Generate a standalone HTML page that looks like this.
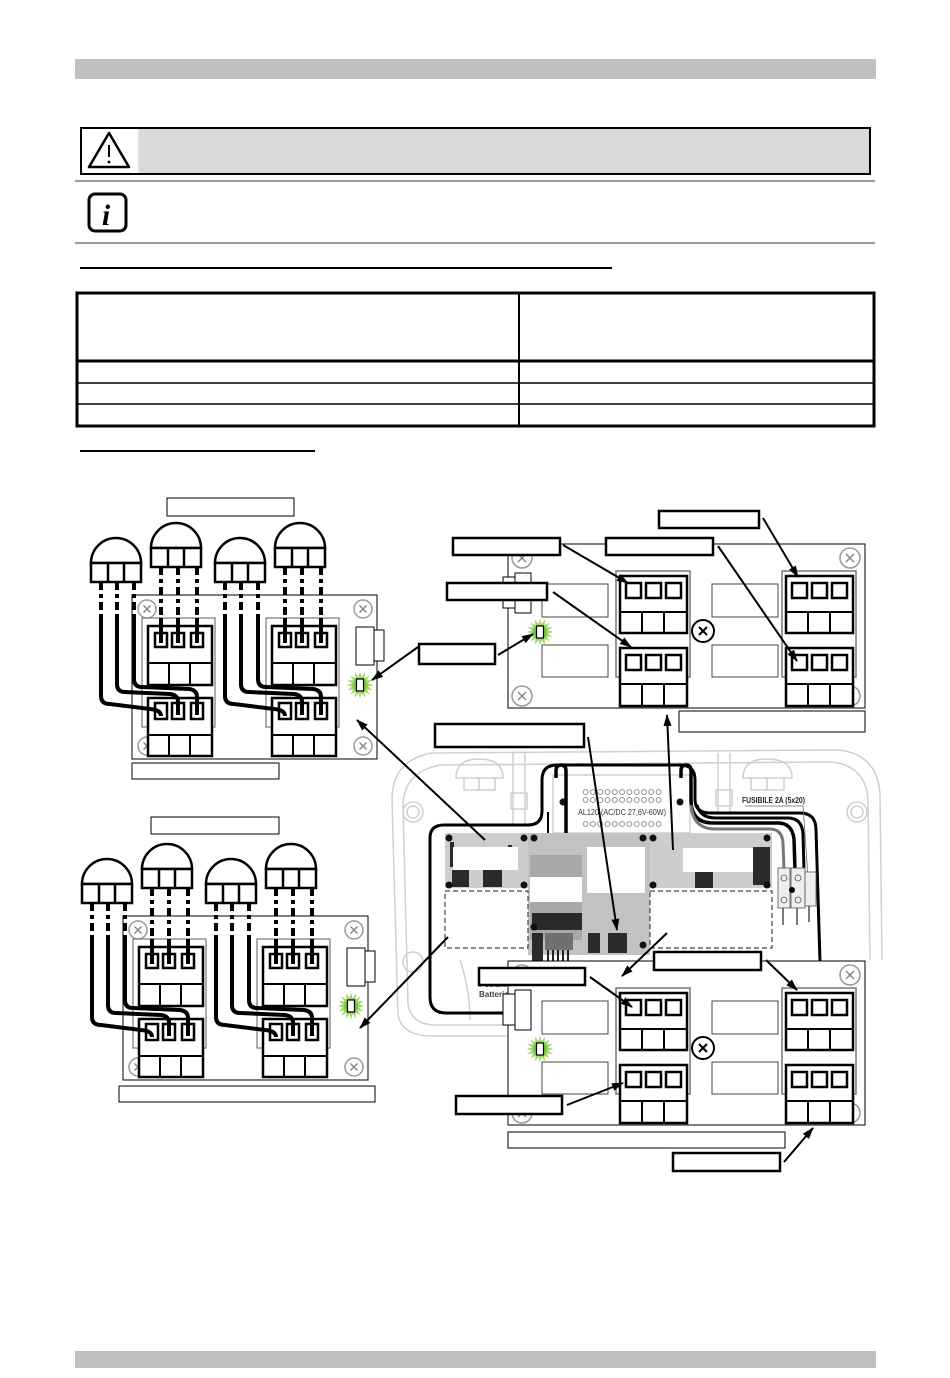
<!DOCTYPE html>
<html><head><meta charset="utf-8"><style>
html,body{margin:0;padding:0;background:#fff;}
svg{display:block;}
</style></head><body>
<svg width="950" height="1378" viewBox="0 0 950 1378" xmlns="http://www.w3.org/2000/svg" font-family="Liberation Sans, sans-serif">
<defs>
<marker id="ah" markerWidth="12" markerHeight="8" refX="11" refY="4" orient="auto" markerUnits="userSpaceOnUse"><path d="M0,0 L12,4 L0,8 Z" fill="#000"/></marker>
<pattern id="holes" x="582" y="788" width="7.3" height="8" patternUnits="userSpaceOnUse"><circle cx="3.6" cy="4" r="2.5" fill="none" stroke="#777" stroke-width="0.8"/></pattern>
</defs>
<rect width="950" height="1378" fill="#fff"/>

<!-- header -->
<rect x="75" y="59" width="801" height="20" fill="#c0c0c0"/>
<rect x="81" y="128" width="789" height="46" fill="#d9d9d9" stroke="#000" stroke-width="2"/>
<rect x="82" y="129" width="55" height="44" fill="#fff"/>
<line x1="138" y1="129" x2="138" y2="173" stroke="#eee" stroke-width="2"/>
<path d="M109 133 L89 167 L129 167 Z" fill="#fff" stroke="#000" stroke-width="2.5" stroke-linejoin="round"/>
<line x1="109" y1="145" x2="109" y2="157" stroke="#000" stroke-width="2"/>
<circle cx="109" cy="162" r="1.4" fill="#000"/>
<line x1="75" y1="181" x2="875" y2="181" stroke="#999" stroke-width="2"/>
<rect x="89" y="194" width="37" height="37" rx="6" fill="#fff" stroke="#000" stroke-width="3"/>
<text x="106" y="225" font-family="Liberation Serif, serif" font-style="italic" font-weight="bold" font-size="30" text-anchor="middle">i</text>
<line x1="75" y1="243" x2="875" y2="243" stroke="#999" stroke-width="2"/>
<line x1="80" y1="268" x2="612" y2="268" stroke="#000" stroke-width="2"/>

<!-- table -->
<rect x="77" y="293" width="797" height="133" fill="none" stroke="#000" stroke-width="3"/>
<line x1="77" y1="361" x2="874" y2="361" stroke="#000" stroke-width="3"/>
<line x1="77" y1="383" x2="874" y2="383" stroke="#000" stroke-width="1.5"/>
<line x1="77" y1="404" x2="874" y2="404" stroke="#000" stroke-width="1.5"/>
<line x1="519" y1="293" x2="519" y2="426" stroke="#000" stroke-width="2"/>
<line x1="80" y1="451" x2="315" y2="451" stroke="#000" stroke-width="2"/>

<!-- ================= LEFT DIAGRAMS ================= -->
<g>
<rect x="132" y="595" width="245" height="164" fill="#fff" stroke="#000" stroke-width="1"/>
<g fill="#fff" stroke="#999" stroke-width="1.5">
<circle cx="147" cy="609" r="9"/><circle cx="363" cy="609" r="9"/><circle cx="147" cy="746" r="9"/><circle cx="363" cy="746" r="9"/>
</g>
<path d="M143.5 605.5L150.5 612.5M150.5 605.5L143.5 612.5M359.5 605.5L366.5 612.5M366.5 605.5L359.5 612.5M143.5 742.5L150.5 749.5M150.5 742.5L143.5 749.5M359.5 742.5L366.5 749.5M366.5 742.5L359.5 749.5" stroke="#888" stroke-width="1.5"/>
<rect x="356" y="627" width="18" height="38" fill="#fff" stroke="#000"/>
<rect x="374" y="630" width="10" height="31" fill="#fff" stroke="#000"/>
<g transform="translate(360,685)"><polygon points="13.5,0 7.85,1.56 12.47,5.17 6.65,4.45 9.55,9.55 4.45,6.65 5.17,12.47 1.56,7.85 0,13.5 -1.56,7.85 -5.17,12.47 -4.45,6.65 -9.55,9.55 -6.65,4.45 -12.47,5.17 -7.85,1.56 -13.5,0 -7.85,-1.56 -12.47,-5.17 -6.65,-4.45 -9.55,-9.55 -4.45,-6.65 -5.17,-12.47 -1.56,-7.85 0,-13.5 1.56,-7.85 5.17,-12.47 4.45,-6.65 9.55,-9.55 6.65,-4.45 12.47,-5.17 7.85,-1.56" fill="#9ed868"/><circle r="7" fill="#7cc242"/><rect x="-3.5" y="-6" width="7" height="12" fill="#fff" stroke="#000" stroke-width="1.2"/></g>
<g>
<rect x="142" y="618" width="73" height="109" fill="none" stroke="#777" stroke-width="1.2"/>
<g fill="#fff" stroke="#000" stroke-width="2.5"><rect x="148" y="626" width="64" height="59"/><rect x="148" y="698" width="64" height="58"/><rect x="155" y="633" width="12" height="14"/><rect x="172" y="633" width="12" height="14"/><rect x="191" y="633" width="12" height="14"/><rect x="155" y="703" width="12" height="16"/><rect x="172" y="703" width="12" height="16"/><rect x="191" y="703" width="12" height="16"/></g>
<path d="M148 663H212M169 663V685M190 663V685M148 735H212M169 735V756M190 735V756" stroke="#000" stroke-width="2" fill="none"/>
<g stroke="#000" stroke-width="4" fill="none"><path d="M101 618V696Q101 704 110 704L150 709Q161 710 161 716M117 618V684Q117 692 125 692L170 694Q178 695 178 702V715M134 618V679Q134 687 142 687L189 689Q197 690 197 697V715M161 618V643M178 618V643M197 618V643"/><path d="M101 582V618M117 582V618M134 582V618M161 567V618M178 567V618M197 567V618" stroke-dasharray="8 4 4 4"/></g>
<g fill="#fff" stroke="#000" stroke-width="2.5"><path d="M91 563A25 25 0 0 1 141 563Z"/><rect x="91" y="563" width="50" height="19"/><path d="M151 548A25 25 0 0 1 201 548Z"/><rect x="151" y="548" width="50" height="19"/></g>
<path d="M108 563V582M124 563V582M168 548V567M184 548V567" stroke="#000" stroke-width="2.5"/>
</g>
<g transform="translate(124,0)">
<rect x="142" y="618" width="73" height="109" fill="none" stroke="#777" stroke-width="1.2"/>
<g fill="#fff" stroke="#000" stroke-width="2.5"><rect x="148" y="626" width="64" height="59"/><rect x="148" y="698" width="64" height="58"/><rect x="155" y="633" width="12" height="14"/><rect x="172" y="633" width="12" height="14"/><rect x="191" y="633" width="12" height="14"/><rect x="155" y="703" width="12" height="16"/><rect x="172" y="703" width="12" height="16"/><rect x="191" y="703" width="12" height="16"/></g>
<path d="M148 663H212M169 663V685M190 663V685M148 735H212M169 735V756M190 735V756" stroke="#000" stroke-width="2" fill="none"/>
<g stroke="#000" stroke-width="4" fill="none"><path d="M101 618V696Q101 704 110 704L150 709Q161 710 161 716M117 618V684Q117 692 125 692L170 694Q178 695 178 702V715M134 618V679Q134 687 142 687L189 689Q197 690 197 697V715M161 618V643M178 618V643M197 618V643"/><path d="M101 582V618M117 582V618M134 582V618M161 567V618M178 567V618M197 567V618" stroke-dasharray="8 4 4 4"/></g>
<g fill="#fff" stroke="#000" stroke-width="2.5"><path d="M91 563A25 25 0 0 1 141 563Z"/><rect x="91" y="563" width="50" height="19"/><path d="M151 548A25 25 0 0 1 201 548Z"/><rect x="151" y="548" width="50" height="19"/></g>
<path d="M108 563V582M124 563V582M168 548V567M184 548V567" stroke="#000" stroke-width="2.5"/>
</g>
</g>

<g transform="translate(-9,321)">
<rect x="132" y="595" width="245" height="164" fill="#fff" stroke="#000" stroke-width="1"/>
<g fill="#fff" stroke="#999" stroke-width="1.5">
<circle cx="147" cy="609" r="9"/><circle cx="363" cy="609" r="9"/><circle cx="147" cy="746" r="9"/><circle cx="363" cy="746" r="9"/>
</g>
<path d="M143.5 605.5L150.5 612.5M150.5 605.5L143.5 612.5M359.5 605.5L366.5 612.5M366.5 605.5L359.5 612.5M143.5 742.5L150.5 749.5M150.5 742.5L143.5 749.5M359.5 742.5L366.5 749.5M366.5 742.5L359.5 749.5" stroke="#888" stroke-width="1.5"/>
<rect x="356" y="627" width="18" height="38" fill="#fff" stroke="#000"/>
<rect x="374" y="630" width="10" height="31" fill="#fff" stroke="#000"/>
<g transform="translate(360,685)"><polygon points="13.5,0 7.85,1.56 12.47,5.17 6.65,4.45 9.55,9.55 4.45,6.65 5.17,12.47 1.56,7.85 0,13.5 -1.56,7.85 -5.17,12.47 -4.45,6.65 -9.55,9.55 -6.65,4.45 -12.47,5.17 -7.85,1.56 -13.5,0 -7.85,-1.56 -12.47,-5.17 -6.65,-4.45 -9.55,-9.55 -4.45,-6.65 -5.17,-12.47 -1.56,-7.85 0,-13.5 1.56,-7.85 5.17,-12.47 4.45,-6.65 9.55,-9.55 6.65,-4.45 12.47,-5.17 7.85,-1.56" fill="#9ed868"/><circle r="7" fill="#7cc242"/><rect x="-3.5" y="-6" width="7" height="12" fill="#fff" stroke="#000" stroke-width="1.2"/></g>
<g>
<rect x="142" y="618" width="73" height="109" fill="none" stroke="#777" stroke-width="1.2"/>
<g fill="#fff" stroke="#000" stroke-width="2.5"><rect x="148" y="626" width="64" height="59"/><rect x="148" y="698" width="64" height="58"/><rect x="155" y="633" width="12" height="14"/><rect x="172" y="633" width="12" height="14"/><rect x="191" y="633" width="12" height="14"/><rect x="155" y="703" width="12" height="16"/><rect x="172" y="703" width="12" height="16"/><rect x="191" y="703" width="12" height="16"/></g>
<path d="M148 663H212M169 663V685M190 663V685M148 735H212M169 735V756M190 735V756" stroke="#000" stroke-width="2" fill="none"/>
<g stroke="#000" stroke-width="4" fill="none"><path d="M101 618V696Q101 704 110 704L150 709Q161 710 161 716M117 618V684Q117 692 125 692L170 694Q178 695 178 702V715M134 618V679Q134 687 142 687L189 689Q197 690 197 697V715M161 618V643M178 618V643M197 618V643"/><path d="M101 582V618M117 582V618M134 582V618M161 567V618M178 567V618M197 567V618" stroke-dasharray="8 4 4 4"/></g>
<g fill="#fff" stroke="#000" stroke-width="2.5"><path d="M91 563A25 25 0 0 1 141 563Z"/><rect x="91" y="563" width="50" height="19"/><path d="M151 548A25 25 0 0 1 201 548Z"/><rect x="151" y="548" width="50" height="19"/></g>
<path d="M108 563V582M124 563V582M168 548V567M184 548V567" stroke="#000" stroke-width="2.5"/>
</g>
<g transform="translate(124,0)">
<rect x="142" y="618" width="73" height="109" fill="none" stroke="#777" stroke-width="1.2"/>
<g fill="#fff" stroke="#000" stroke-width="2.5"><rect x="148" y="626" width="64" height="59"/><rect x="148" y="698" width="64" height="58"/><rect x="155" y="633" width="12" height="14"/><rect x="172" y="633" width="12" height="14"/><rect x="191" y="633" width="12" height="14"/><rect x="155" y="703" width="12" height="16"/><rect x="172" y="703" width="12" height="16"/><rect x="191" y="703" width="12" height="16"/></g>
<path d="M148 663H212M169 663V685M190 663V685M148 735H212M169 735V756M190 735V756" stroke="#000" stroke-width="2" fill="none"/>
<g stroke="#000" stroke-width="4" fill="none"><path d="M101 618V696Q101 704 110 704L150 709Q161 710 161 716M117 618V684Q117 692 125 692L170 694Q178 695 178 702V715M134 618V679Q134 687 142 687L189 689Q197 690 197 697V715M161 618V643M178 618V643M197 618V643"/><path d="M101 582V618M117 582V618M134 582V618M161 567V618M178 567V618M197 567V618" stroke-dasharray="8 4 4 4"/></g>
<g fill="#fff" stroke="#000" stroke-width="2.5"><path d="M91 563A25 25 0 0 1 141 563Z"/><rect x="91" y="563" width="50" height="19"/><path d="M151 548A25 25 0 0 1 201 548Z"/><rect x="151" y="548" width="50" height="19"/></g>
<path d="M108 563V582M124 563V582M168 548V567M184 548V567" stroke="#000" stroke-width="2.5"/>
</g>
</g>

<!-- ================= RIGHT UPPER BOARD ================= -->
<g>
<rect x="508" y="544" width="357" height="164" fill="#fff" stroke="#000" stroke-width="1"/>
<g fill="#fff" stroke="#999" stroke-width="1.5"><circle cx="522" cy="558" r="10"/><circle cx="850" cy="558" r="10"/><circle cx="522" cy="696" r="10"/><circle cx="850" cy="696" r="10"/></g>
<path d="M518 554L526 562M526 554L518 562M846 554L854 562M854 554L846 562M518 692L526 700M526 692L518 700M846 692L854 700M854 692L846 700" stroke="#888" stroke-width="1.5"/>
<circle cx="703" cy="631" r="11" fill="#fff" stroke="#000" stroke-width="2"/><path d="M699 627L707 635M707 627L699 635" stroke="#000" stroke-width="2"/>
<g fill="none" stroke="#444" stroke-width="1"><rect x="542" y="584" width="66" height="33"/><rect x="542" y="645" width="66" height="32"/><rect x="712" y="584" width="66" height="33"/><rect x="712" y="645" width="66" height="32"/></g>
<rect x="503" y="577" width="12" height="31" fill="#fff" stroke="#000"/><rect x="515" y="573" width="16" height="40" fill="#fff" stroke="#000"/>
<g transform="translate(540,632)"><polygon points="13.5,0 7.85,1.56 12.47,5.17 6.65,4.45 9.55,9.55 4.45,6.65 5.17,12.47 1.56,7.85 0,13.5 -1.56,7.85 -5.17,12.47 -4.45,6.65 -9.55,9.55 -6.65,4.45 -12.47,5.17 -7.85,1.56 -13.5,0 -7.85,-1.56 -12.47,-5.17 -6.65,-4.45 -9.55,-9.55 -4.45,-6.65 -5.17,-12.47 -1.56,-7.85 0,-13.5 1.56,-7.85 5.17,-12.47 4.45,-6.65 9.55,-9.55 6.65,-4.45 12.47,-5.17 7.85,-1.56" fill="#9ed868"/><circle r="7" fill="#7cc242"/><rect x="-3.5" y="-6" width="7" height="12" fill="#fff" stroke="#000" stroke-width="1.2"/></g>
<g fill="none" stroke="#777" stroke-width="1.5"><rect x="616" y="571" width="74" height="106"/><rect x="782" y="571" width="74" height="106"/></g>
<g fill="#fff" stroke="#000" stroke-width="2.5"><rect x="620" y="576" width="67" height="57"/><rect x="620" y="648" width="67" height="58"/><rect x="626" y="583" width="15" height="15"/><rect x="646" y="583" width="15" height="15"/><rect x="666" y="583" width="15" height="15"/><rect x="626" y="655" width="15" height="15"/><rect x="646" y="655" width="15" height="15"/><rect x="666" y="655" width="15" height="15"/>
<rect x="786" y="576" width="67" height="57"/><rect x="786" y="648" width="67" height="58"/><rect x="792" y="583" width="15" height="15"/><rect x="812" y="583" width="15" height="15"/><rect x="832" y="583" width="15" height="15"/><rect x="792" y="655" width="15" height="15"/><rect x="812" y="655" width="15" height="15"/><rect x="832" y="655" width="15" height="15"/></g>
<path d="M620 612H687M642 612V633M664 612V633M620 684H687M642 684V706M664 684V706M786 612H853M808 612V633M830 612V633M786 684H853M808 684V706M830 684V706" stroke="#000" stroke-width="2" fill="none"/>
</g>

<!-- ================= ENCLOSURE ================= -->
<g fill="none" stroke="#cfcfcf" stroke-width="1.5">
<path d="M398 1015 L392 800 Q392 760 432 753 L838 750 Q878 754 880 795 L882 960"/>
<path d="M408 1005 L403 805 Q404 772 440 765 L832 762 Q866 766 868 800 L870 960"/>
<path d="M398 1015 Q402 1036 432 1036 L508 1036"/>
<path d="M408 1005 Q412 1025 436 1025 L508 1025"/>
<circle cx="413" cy="812" r="10"/><circle cx="413" cy="812" r="6"/>
<circle cx="857" cy="812" r="10"/><circle cx="857" cy="812" r="6"/>
<circle cx="413" cy="962" r="10"/>
<path d="M456 778 Q456 759 479 759 Q503 759 503 778 Z"/><path d="M464 778 V790 H495 V778 M479 778 V790"/>
<path d="M743 778 Q743 759 767 759 Q792 759 792 778 Z"/><path d="M751 778 V790 H784 V778 M767 778 V790"/>
<path d="M513 753 V825 M525 753 V825"/><rect x="511" y="793" width="16" height="16"/>
<path d="M718 753 V815 M730 753 V815"/><rect x="716" y="790" width="16" height="16"/>
<path d="M460 960 Q470 990 470 1020"/>
</g>
<!-- AL120 module -->
<rect x="553" y="775" width="137" height="58" fill="#fff" stroke="#bbb" stroke-width="1"/>
<rect x="582" y="788" width="80" height="16" fill="url(#holes)"/>
<rect x="582" y="820" width="80" height="8" fill="url(#holes)"/>
<rect x="578" y="806" width="90" height="11" fill="#fff"/>
<text x="578" y="815" font-size="8.5" fill="#333" textLength="88" lengthAdjust="spacingAndGlyphs">AL120 (AC/DC 27,6V-60W)</text>
<circle cx="563" cy="802" r="3.5" fill="#111"/><circle cx="680" cy="802" r="3.5" fill="#111"/>
<!-- black cable outline -->
<path d="M503 1013 L446 1013 Q430 1013 430 997 L430 838 Q430 825 444 825 L528 825 Q542 825 542 811 L542 780 Q542 765 557 765 L680 765 Q695 765 695 780 L695 799 Q695 813 710 813 L800 813 Q816 813 816 830 L820 962" fill="none" stroke="#000" stroke-width="3"/>
<path d="M556 778 V771 Q556 765 561 765 Q566 765 566 771 V834" fill="none" stroke="#000" stroke-width="3.5"/>
<path d="M548 812 V834" fill="none" stroke="#000" stroke-width="2"/>
<path d="M681 778 V771 Q681 765 686 765 Q691 765 691 771 V800 Q691 823 713 823 L778 823 Q792 823 794 839 L795 870" fill="none" stroke="#000" stroke-width="3.5"/>
<path d="M691 805 Q693 829 715 829 L770 829 Q782 829 783 843 L784 870" fill="none" stroke="#777" stroke-width="3"/>
<path d="M697 805 Q700 818 716 818 L788 818 Q802 818 803 834 L804 870" fill="none" stroke="#000" stroke-width="3"/>
<text x="742" y="803" font-size="8" font-weight="bold" fill="#222" textLength="63" lengthAdjust="spacingAndGlyphs">FUSIBILE 2A (5x20)</text>
<path d="M745 806 H803 L808 877" fill="none" stroke="#666" stroke-width="0.8"/>
<!-- fuse block -->
<g fill="#eee" stroke="#555" stroke-width="0.8">
<rect x="778" y="868" width="12" height="40"/><rect x="791" y="868" width="14" height="40"/><rect x="805" y="872" width="11" height="34"/>
<circle cx="784" cy="878" r="3"/><circle cx="798" cy="878" r="3"/><circle cx="784" cy="900" r="3"/><circle cx="798" cy="900" r="3"/>
</g>
<circle cx="792" cy="890" r="3" fill="#000"/>
<path d="M783 908 V925 M797 908 V925 M809 906 V922" stroke="#222" stroke-width="1.2"/>
<!-- PCB -->
<rect x="445" y="833" width="327" height="55" fill="#cdcdcd"/>
<rect x="528" y="833" width="122" height="122" fill="#c2c2c2"/>
<rect x="530" y="855" width="52" height="85" fill="#a8a8a8"/>
<g fill="#2a2a2a">
<rect x="452" y="870" width="17" height="17"/><rect x="483" y="870" width="19" height="17"/>
<rect x="695" y="872" width="18" height="16"/><rect x="753" y="847" width="17" height="38"/>
<rect x="532" y="913" width="50" height="17"/><rect x="532" y="933" width="11" height="28"/>
<rect x="588" y="933" width="12" height="20"/><rect x="608" y="933" width="19" height="20"/>
<rect x="450" y="842" width="4" height="25"/><rect x="508" y="845" width="4" height="20"/>
</g>
<rect x="545" y="933" width="28" height="17" fill="#707070"/>
<path d="M548 950 V962 M553 950 V962 M558 950 V962 M563 950 V962 M568 950 V962" stroke="#222" stroke-width="2"/>
<g fill="#111">
<circle cx="449" cy="838" r="3.5"/><circle cx="524" cy="838" r="3.5"/><circle cx="534" cy="838" r="3.5"/><circle cx="643" cy="838" r="3.5"/><circle cx="653" cy="838" r="3.5"/><circle cx="767" cy="838" r="3.5"/>
<circle cx="449" cy="885" r="3.5"/><circle cx="524" cy="885" r="3.5"/><circle cx="653" cy="885" r="3.5"/><circle cx="767" cy="885" r="3.5"/><circle cx="534" cy="927" r="3.5"/><circle cx="643" cy="945" r="3.5"/>
</g>
<g fill="#fff"><rect x="453" y="847" width="65" height="23"/><rect x="530" y="877" width="52" height="25"/><rect x="587" y="847" width="58" height="46"/><rect x="683" y="848" width="70" height="24"/></g>
<g fill="#fff" stroke="#444" stroke-width="1.2" stroke-dasharray="5 3"><rect x="445" y="891" width="83" height="57"/><rect x="650" y="891" width="122" height="57"/></g>
<text x="479" y="987" font-size="8" font-weight="bold" fill="#444">Posizione</text>
<text x="479" y="997" font-size="8" font-weight="bold" fill="#444">Batteria</text>

<!-- ================= RIGHT LOWER BOARD ================= -->
<g transform="translate(0,417)">
<rect x="508" y="544" width="357" height="164" fill="#fff" stroke="#000" stroke-width="1"/>
<g fill="#fff" stroke="#999" stroke-width="1.5"><circle cx="522" cy="558" r="10"/><circle cx="850" cy="558" r="10"/><circle cx="522" cy="696" r="10"/><circle cx="850" cy="696" r="10"/></g>
<path d="M518 554L526 562M526 554L518 562M846 554L854 562M854 554L846 562M518 692L526 700M526 692L518 700M846 692L854 700M854 692L846 700" stroke="#888" stroke-width="1.5"/>
<circle cx="703" cy="631" r="11" fill="#fff" stroke="#000" stroke-width="2"/><path d="M699 627L707 635M707 627L699 635" stroke="#000" stroke-width="2"/>
<g fill="none" stroke="#444" stroke-width="1"><rect x="542" y="584" width="66" height="33"/><rect x="542" y="645" width="66" height="32"/><rect x="712" y="584" width="66" height="33"/><rect x="712" y="645" width="66" height="32"/></g>
<rect x="503" y="577" width="12" height="31" fill="#fff" stroke="#000"/><rect x="515" y="573" width="16" height="40" fill="#fff" stroke="#000"/>
<g transform="translate(540,632)"><polygon points="13.5,0 7.85,1.56 12.47,5.17 6.65,4.45 9.55,9.55 4.45,6.65 5.17,12.47 1.56,7.85 0,13.5 -1.56,7.85 -5.17,12.47 -4.45,6.65 -9.55,9.55 -6.65,4.45 -12.47,5.17 -7.85,1.56 -13.5,0 -7.85,-1.56 -12.47,-5.17 -6.65,-4.45 -9.55,-9.55 -4.45,-6.65 -5.17,-12.47 -1.56,-7.85 0,-13.5 1.56,-7.85 5.17,-12.47 4.45,-6.65 9.55,-9.55 6.65,-4.45 12.47,-5.17 7.85,-1.56" fill="#9ed868"/><circle r="7" fill="#7cc242"/><rect x="-3.5" y="-6" width="7" height="12" fill="#fff" stroke="#000" stroke-width="1.2"/></g>
<g fill="none" stroke="#777" stroke-width="1.5"><rect x="616" y="571" width="74" height="106"/><rect x="782" y="571" width="74" height="106"/></g>
<g fill="#fff" stroke="#000" stroke-width="2.5"><rect x="620" y="576" width="67" height="57"/><rect x="620" y="648" width="67" height="58"/><rect x="626" y="583" width="15" height="15"/><rect x="646" y="583" width="15" height="15"/><rect x="666" y="583" width="15" height="15"/><rect x="626" y="655" width="15" height="15"/><rect x="646" y="655" width="15" height="15"/><rect x="666" y="655" width="15" height="15"/>
<rect x="786" y="576" width="67" height="57"/><rect x="786" y="648" width="67" height="58"/><rect x="792" y="583" width="15" height="15"/><rect x="812" y="583" width="15" height="15"/><rect x="832" y="583" width="15" height="15"/><rect x="792" y="655" width="15" height="15"/><rect x="812" y="655" width="15" height="15"/><rect x="832" y="655" width="15" height="15"/></g>
<path d="M620 612H687M642 612V633M664 612V633M620 684H687M642 684V706M664 684V706M786 612H853M808 612V633M830 612V633M786 684H853M808 684V706M830 684V706" stroke="#000" stroke-width="2" fill="none"/>
</g>

<!-- ================= ARROWS ================= -->
<g stroke="#000" stroke-width="2" fill="none" marker-end="url(#ah)">
<line x1="563" y1="545" x2="628" y2="583"/>
<line x1="553" y1="592" x2="631" y2="647"/>
<line x1="718" y1="546" x2="797" y2="661"/>
<line x1="763" y1="518" x2="798" y2="577"/>
<line x1="498" y1="655" x2="533" y2="634"/>
<line x1="418" y1="647" x2="372" y2="680"/>
<line x1="485" y1="840" x2="357" y2="720"/>
<line x1="588" y1="737" x2="617" y2="930"/>
<line x1="673" y1="850" x2="667" y2="715"/>
<line x1="448" y1="937" x2="360" y2="1028"/>
<line x1="667" y1="933" x2="622" y2="976"/>
<line x1="590" y1="977" x2="632" y2="1007"/>
<line x1="766" y1="960" x2="797" y2="990"/>
<line x1="567" y1="1105" x2="623" y2="1083"/>
<line x1="784" y1="1162" x2="813" y2="1128"/>
</g>

<!-- ================= LABEL BOXES ================= -->
<g fill="#fff" stroke="#000" stroke-width="2.5">
<rect x="453" y="538" width="107" height="17"/>
<rect x="606" y="538" width="107" height="17"/>
<rect x="659" y="511" width="100" height="17"/>
<rect x="447" y="583" width="100" height="17"/>
<rect x="419" y="644" width="76" height="20"/>
<rect x="435" y="724" width="149" height="23"/>
<rect x="479" y="968" width="106" height="17"/>
<rect x="654" y="952" width="107" height="18"/>
<rect x="456" y="1096" width="106" height="18"/>
<rect x="673" y="1153" width="107" height="18"/>
</g>
<g fill="#fff" stroke="#000" stroke-width="1">
<rect x="167" y="498" width="127" height="18"/>
<rect x="132" y="763" width="147" height="16"/>
<rect x="679" y="711" width="186" height="21"/>
<rect x="151" y="817" width="128" height="17"/>
<rect x="119" y="1086" width="256" height="16"/>
<rect x="508" y="1132" width="277" height="16"/>
</g>

<!-- footer -->
<rect x="75" y="1351" width="801" height="17" fill="#bfbfbf"/>
</svg>
</body></html>
